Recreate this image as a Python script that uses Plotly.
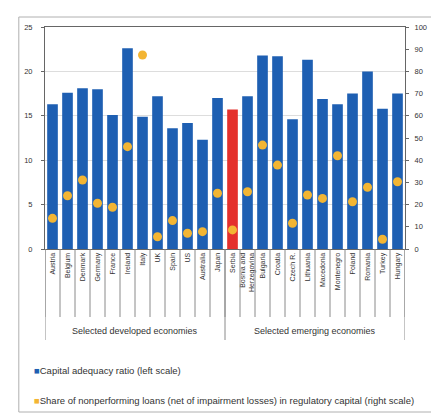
import plotly.graph_objects as go

categories = ["Austria", "Belgium", "Denmark", "Germany", "France", "Ireland", "Italy", "UK",
              "Spain", "US", "Australia", "Japan",
              "Serbia", "Bosnia and<br>Herzegovina", "Bulgaria", "Croatia", "Czech R.", "Lithuania",
              "Macedonia", "Montenegro", "Poland", "Romania", "Turkey", "Hungary"]
groups = ["Selected developed economies", "Selected emerging economies"]
group_sizes = [12, 12]
highlight = "Serbia"

car = [16.3, 17.6, 18.1, 18.0, 15.1, 22.6, 14.9, 17.2, 13.6, 14.2, 12.3, 17.0,
       15.7, 17.2, 21.8, 21.7, 14.6, 21.3, 16.9, 16.3, 17.5, 20.0, 15.8, 17.5]
npl = [13.8, 24.0, 31.1, 20.6, 18.8, 46.1, 87.4, 5.5, 12.8, 7.1, 7.8, 25.1,
       8.6, 25.8, 46.8, 37.8, 11.6, 24.3, 22.8, 42.0, 21.3, 27.8, 4.4, 30.3]

series_names = ["Capital adequacy ratio (left scale)",
                "Share of nonperforming loans (net of impairment losses) in regulatory capital (right scale)"]

BLUE = "#1e5fb2"
RED = "#e4302c"
GOLD = "#f3b533"

OFF = 8  # page body margin
W, H = 439 - OFF, 414 - OFF
L, T = 45 - OFF, 27 - OFF
R = W - (416 - OFF)
B = H - (249 - OFF)
plot_w = W - L - R
plot_h = H - T - B

def py(page_y):
    return -((page_y - OFF) - (H - B)) / plot_h

def px_(page_x):
    return ((page_x - OFF) - L) / plot_w

n = len(categories)
xs = list(range(n))
bar_colors = [RED if c == highlight else BLUE for c in categories]

fig = go.Figure()
fig.add_trace(go.Bar(x=xs, y=car, name=series_names[0], marker_color=bar_colors,
                     marker_line_width=0, yaxis="y"))
fig.add_trace(go.Scatter(x=xs, y=npl, name=series_names[1], mode="markers",
                         marker=dict(color=GOLD, size=9, symbol="circle"),
                         yaxis="y2"))

shapes = []
for i in range(n + 1):
    shapes.append(dict(type="line", xref="x", yref="paper", x0=i - 0.5, x1=i - 0.5,
                       y0=0, y1=py(317), line=dict(color="#8a8a8a", width=1)))
annotations = []
start = 0
bounds = [-0.5]
for g, s in zip(groups, group_sizes):
    annotations.append(dict(text=g, x=start + (s - 1) / 2, xref="x", y=py(331), yref="paper",
                            showarrow=False, font=dict(size=9, color="#333"), yanchor="middle"))
    start += s
    bounds.append(start - 0.5)
for b in bounds:
    shapes.append(dict(type="line", xref="x", yref="paper", x0=b, x1=b,
                       y0=0, y1=py(340), line=dict(color="#8a8a8a", width=1)))
shapes.append(dict(type="rect", xref="paper", yref="paper",
                   x0=px_(18), x1=px_(446), y0=py(412), y1=py(17),
                   line=dict(color="#b0b0b0", width=1)))

legend_colors = [BLUE, GOLD]
legend_y = [370, 400]
for name, col, yy in zip(series_names, legend_colors, legend_y):
    annotations.append(dict(
        text=f"<span style='color:{col}'>■</span>{name}",
        x=px_(32), xref="paper", xanchor="left", y=py(yy), yref="paper", yanchor="middle",
        showarrow=False, font=dict(size=9.5, color="#333")))

fig.update_layout(
    width=W, height=H,
    margin=dict(l=L, r=R, t=T, b=B),
    paper_bgcolor="white", plot_bgcolor="white",
    font=dict(family="Liberation Sans, Arial, sans-serif", color="#333"),
    bargap=0.29,
    showlegend=False,
    xaxis=dict(tickmode="array", tickvals=xs, ticktext=categories, tickangle=-90,
               tickfont=dict(size=7, color="#333"), range=[-0.5, n - 0.5],
               showgrid=False, showline=True, linecolor="#666", mirror=True, ticks=""),
    yaxis=dict(range=[0, 25], dtick=5, tickfont=dict(size=7.5, color="#333"),
               showgrid=True, gridcolor="#dddddd", showline=True, linecolor="#666",
               ticks="outside", ticklen=3, tickcolor="#666", zeroline=False,
               ticklabelstandoff=7),
    yaxis2=dict(range=[0, 100], dtick=10, overlaying="y", side="right",
                tickfont=dict(size=7.5, color="#333"), showgrid=False, showline=True,
                linecolor="#666", ticks="outside", ticklen=3, tickcolor="#666", zeroline=False,
                ticklabelstandoff=4),
    shapes=shapes,
    annotations=annotations,
)

fig.write_html("out.html")
